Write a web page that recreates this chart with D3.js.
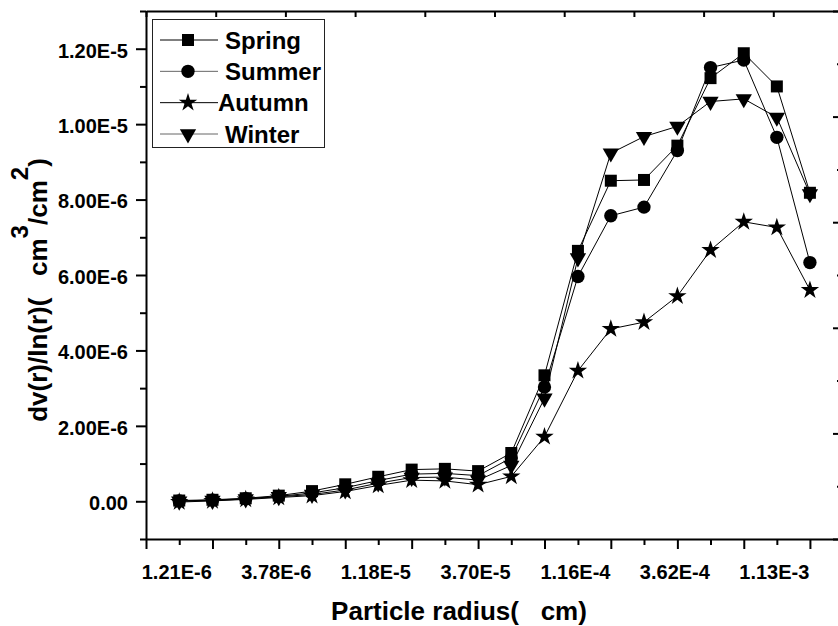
<!DOCTYPE html>
<html><head><meta charset="utf-8">
<script src="https://cdn.jsdelivr.net/npm/d3@7"></script>
<style>
body{margin:0;background:#fff;}
svg text{font-family:"Liberation Sans",Arial,Helvetica,sans-serif;font-weight:bold;fill:#000;}
</style></head><body>
<svg id="c" width="838" height="626"></svg>
<script>
// Particle radius (cm) for each size bin
const radii = [1.21e-6,1.77e-6,2.59e-6,3.78e-6,5.53e-6,8.09e-6,1.18e-5,1.73e-5,2.53e-5,3.70e-5,
               5.41e-5,7.91e-5,1.16e-4,1.69e-4,2.47e-4,3.62e-4,5.29e-4,7.74e-4,1.13e-3,1.65e-3];
// dv(r)/ln(r) values, in units of 1E-6 cm3/cm2
const spring = [0.02,0.04,0.08,0.15,0.27,0.45,0.65,0.84,0.86,0.80,1.28,3.34,6.64,8.50,8.52,9.43,11.22,11.88,11.00,8.18];
const summer = [0.01,0.03,0.07,0.13,0.22,0.36,0.55,0.72,0.74,0.68,1.15,3.03,5.96,7.57,7.80,9.30,11.50,11.70,9.65,6.33];
const autumn = [-0.02,0.01,0.05,0.10,0.15,0.26,0.42,0.56,0.54,0.44,0.66,1.71,3.46,4.57,4.75,5.44,6.66,7.41,7.26,5.60];
const winter = [0.00,0.02,0.06,0.12,0.18,0.30,0.48,0.63,0.64,0.56,0.95,2.73,6.45,9.23,9.67,9.94,10.60,10.67,10.18,8.15];
const seriesNames = ["Spring","Summer","Autumn","Winter"];
const xTickValues = [1.21e-6,3.78e-6,1.18e-5,3.70e-5,1.16e-4,3.62e-4,1.13e-3];
const xTickLabels = ["1.21E-6","3.78E-6","1.18E-5","3.70E-5","1.16E-4","3.62E-4","1.13E-3"];
const yTickValues = [0,2,4,6,8,10,12];
const yTickLabels = ["0.00","2.00E-6","4.00E-6","6.00E-6","8.00E-6","1.00E-5","1.20E-5"];

const svg = d3.select("#c");
const L = 146, R = 843, T = 11, B = 539;

const stepLo = radii[1]/radii[0], stepHi = radii[radii.length-1]/radii[radii.length-2];
const x = d3.scaleLog().domain([radii[0]/stepLo, radii[radii.length-1]*stepHi]).range([L, R]);
const y = d3.scaleLinear().domain([-1, 13]).range([B, T]);

const axStyle = g => { g.selectAll("path,line").attr("stroke","#000").attr("stroke-width",2); };

// bottom axis: major & minor ticks
const majorX = [x.domain()[0]].concat(radii.filter((d,i)=>i%2===1));
const minorX = radii.filter((d,i)=>i%2===0);
svg.append("g").attr("transform",`translate(0,${B})`)
  .call(d3.axisBottom(x).tickValues(majorX).tickSize(10).tickSizeOuter(0).tickFormat(""))
  .call(axStyle);
svg.append("g").attr("transform",`translate(0,${B})`)
  .call(d3.axisBottom(x).tickValues(minorX).tickSize(6).tickSizeOuter(0).tickFormat(""))
  .call(g=>g.select(".domain").remove()).call(axStyle);
// bottom labels
const xl = svg.append("g").attr("transform",`translate(0,${B})`)
  .call(d3.axisBottom(x).tickValues(xTickValues).tickSize(0).tickFormat((d,i)=>xTickLabels[i]))
  .call(g=>g.select(".domain").remove());
xl.selectAll("text").attr("y",40).attr("dy",0).attr("dx",-3).style("font-size","20px").attr("fill","#000");
xl.selectAll(".tick line").remove();

// left axis
const yl = svg.append("g").attr("transform",`translate(${L},0)`)
  .call(d3.axisLeft(y).tickValues(yTickValues).tickSize(10).tickSizeOuter(0).tickPadding(8).tickFormat((d,i)=>yTickLabels[i]))
  .call(axStyle);
yl.selectAll("text").style("font-size","20px").attr("dy","0.42em").attr("fill","#000");
svg.append("g").attr("transform",`translate(${L},0)`)
  .call(d3.axisLeft(y).tickValues(d3.range(-1,14,2)).tickSize(6).tickSizeOuter(0).tickFormat(""))
  .call(g=>g.select(".domain").remove()).call(axStyle);

// top axis (frame, inward ticks)
const xTop = d3.scaleLinear().domain([0,10]).range([L, R]);
svg.append("g").attr("transform",`translate(0,${T})`)
  .call(d3.axisTop(xTop).ticks(10).tickSize(-6).tickSizeOuter(0).tickFormat(""))
  .call(axStyle);

// right axis (frame, inward ticks)
const yRight = d3.scaleLinear().domain([0,5]).range([B, T]);
svg.append("g").attr("transform",`translate(${R},0)`)
  .call(d3.axisRight(yRight).tickValues(d3.range(0,6)).tickSize(-10).tickSizeOuter(0).tickFormat(""))
  .call(axStyle);
svg.append("g").attr("transform",`translate(${R},0)`)
  .call(d3.axisRight(yRight).tickValues(d3.range(0.5,5,1)).tickSize(-6).tickSizeOuter(0).tickFormat(""))
  .call(g=>g.select(".domain").remove()).call(axStyle);

// series
const series = [spring, summer, autumn, winter];
const symbols = [
  {type:d3.symbolSquare, size:144, rot:0},
  {type:d3.symbolCircle, size:140, rot:0},
  {type:d3.symbolStar,   size:105, rot:0},
  {type:d3.symbolTriangle, size:115, rot:180}
];
const line = d3.line().x((d,i)=>x(radii[i])).y(d=>y(d));
series.forEach((s,k)=>{
  svg.append("path").attr("d",line(s)).attr("fill","none").attr("stroke","#000").attr("stroke-width",1);
});
series.forEach((s,k)=>{
  const sym = d3.symbol().type(symbols[k].type).size(symbols[k].size);
  svg.append("g").selectAll("path").data(s).join("path")
    .attr("d",sym)
    .attr("transform",(d,i)=>`translate(${x(radii[i])},${y(d)}) rotate(${symbols[k].rot})`)
    .attr("fill","#000");
});

// legend
const lg = svg.append("g");
lg.append("rect").attr("x",152.5).attr("y",19.5).attr("width",172).attr("height",128)
  .attr("fill","#fff").attr("stroke","#222").attr("stroke-width",1);
const legY = d3.scaleLinear().domain([0,3]).range([40,134]);
const legTextX = [225,225,218,225];
seriesNames.forEach((n,k)=>{
  const yy = legY(k);
  lg.append("line").attr("x1",160).attr("x2",218).attr("y1",yy).attr("y2",yy)
    .attr("stroke",k%2? "#666":"#000").attr("stroke-width",1);
  lg.append("path").attr("d",d3.symbol().type(symbols[k].type).size(symbols[k].size)())
    .attr("transform",`translate(188,${yy}) rotate(${symbols[k].rot})`).attr("fill","#000");
  lg.append("text").attr("x",legTextX[k]).attr("y",yy).attr("dy","0.36em")
    .style("font-size","24px").text(n);
});

// axis titles
svg.append("text").attr("x",459).attr("y",620).attr("text-anchor","middle")
  .style("font-size","26px").style("white-space","pre").text("Particle radius(   cm)");

const yt = svg.append("text").attr("transform","translate(47,290) rotate(-90)")
  .attr("text-anchor","middle").style("font-size","26px").style("white-space","pre");
yt.append("tspan").text("dv(r)/ln(r)(   cm");
yt.append("tspan").attr("dy",-19).style("font-size","24px").text("3");
yt.append("tspan").attr("dy",19).text("/cm");
yt.append("tspan").attr("dy",-19).style("font-size","24px").text("2");
yt.append("tspan").attr("dy",19).text(")");
</script>
</body></html>
